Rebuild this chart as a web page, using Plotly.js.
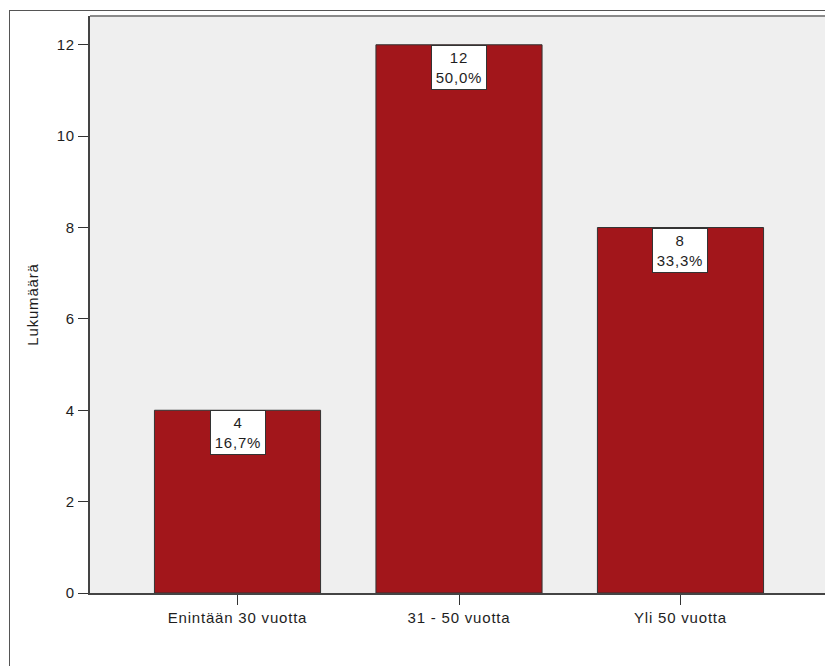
<!DOCTYPE html>
<html>
<head>
<meta charset="utf-8">
<script src="https://cdn.plot.ly/plotly-3.0.1.min.js"></script>
<style>
  html, body { margin: 0; padding: 0; background: #ffffff; overflow: hidden; width: 825px; height: 666px; }
  #frame { position: absolute; left: 9px; top: 10px; width: 2000px; height: 2000px; border: 1px solid #555555; box-sizing: border-box; }
  #chart { position: absolute; left: 0; top: 0; width: 900px; height: 666px; }
  #chart .main-svg text { letter-spacing: 0.8px; }
</style>
</head>
<body>
<div id="frame"></div>
<div id="chart"></div>
<script>
// Age groups and respondent counts
const categories = ['Enintään 30 vuotta', '31 - 50 vuotta', 'Yli 50 vuotta'];
const counts = [4, 12, 8];
const yTicks = [0, 2, 4, 6, 8, 10, 12];
const yTitle = 'Lukumäärä';

const total = counts.reduce((a, b) => a + b, 0);
const pctText = counts.map(c => (c / total * 100).toFixed(1).replace('.', ',') + '%');

const fontFamily = '"Liberation Sans", Arial, sans-serif';
const textColor = '#1e1e1e';
const fontSize = 15;

const trace = {
  type: 'bar',
  x: categories,
  y: counts,
  width: 0.75,
  marker: { color: '#A2161B', line: { color: '#333333', width: 1 } },
  hoverinfo: 'x+y'
};

// Count / percentage boxes hanging from each bar top
const annotations = categories.map((cat, i) => ({
  x: cat,
  y: counts[i],
  xref: 'x',
  yref: 'y',
  yanchor: 'top',
  xanchor: 'center',
  showarrow: false,
  text: counts[i] + '<br>' + pctText[i],
  align: 'center',
  font: { family: fontFamily, size: fontSize, color: textColor },
  bgcolor: '#ffffff',
  bordercolor: '#333333',
  borderwidth: 1,
  borderpad: 1,
  width: 52,
  height: 41
}));

const layout = {
  width: 900,
  height: 666,
  margin: { l: 90, r: 72, t: 16, b: 73 },
  paper_bgcolor: 'rgba(0,0,0,0)',
  plot_bgcolor: '#EFEFEF',
  font: { family: fontFamily, size: fontSize, color: textColor },
  showlegend: false,
  xaxis: {
    type: 'category',
    range: [-0.666, 2.666],
    showline: true,
    linecolor: '#444444',
    linewidth: 2,
    ticks: 'outside',
    ticklen: 10,
    tickwidth: 1,
    tickcolor: '#333333',
    showgrid: false,
    zeroline: false,
    tickfont: { size: fontSize, color: textColor }
  },
  yaxis: {
    range: [0, 12.63],
    tickvals: yTicks,
    ticktext: yTicks.map(String),
    showline: true,
    linecolor: '#444444',
    linewidth: 2,
    ticks: 'outside',
    ticklen: 10,
    tickwidth: 1,
    tickcolor: '#333333',
    showgrid: false,
    zeroline: false,
    tickfont: { size: fontSize, color: textColor },
    title: { text: yTitle, font: { size: fontSize, color: textColor }, standoff: 16 }
  },
  shapes: [
    { type: 'line', xref: 'paper', yref: 'paper', x0: 0, x1: 1, y0: 1, y1: 1,
      line: { color: '#8a8a8a', width: 2 } }
  ],
  annotations: annotations
};

Plotly.newPlot('chart', [trace], layout, { displayModeBar: false, staticPlot: true });
</script>
</body>
</html>
